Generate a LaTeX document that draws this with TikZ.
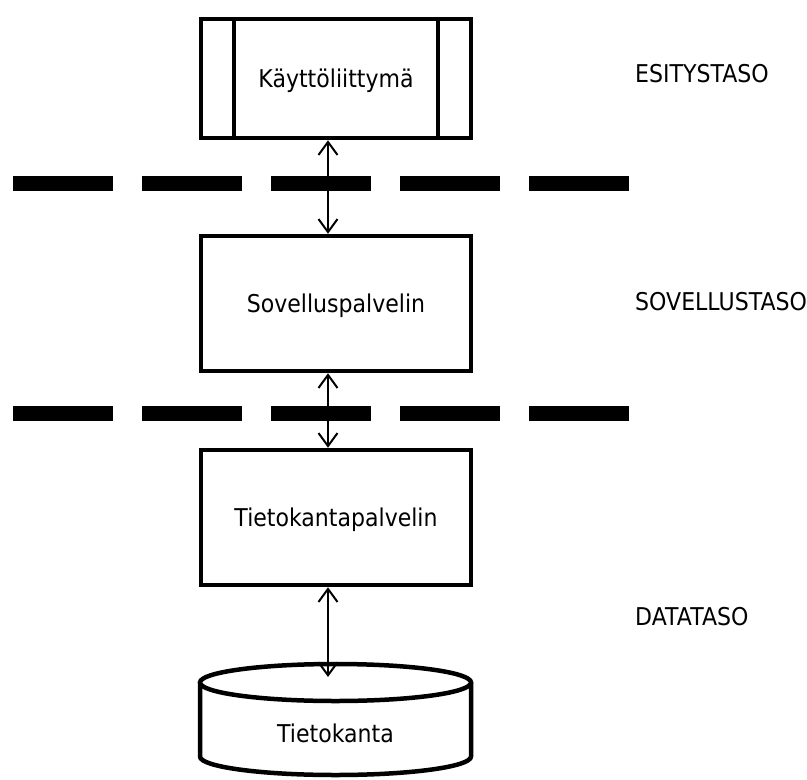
\documentclass[tikz,border=0pt]{standalone}
\usepackage{fontspec}
\setmainfont{DejaVu Sans}[FakeStretch=0.9]
\usetikzlibrary{arrows.meta,calc}
\begin{document}
\begin{tikzpicture}[x=1pt,y=-1pt,
  txt/.style={font=\fontsize{24.5}{29}\selectfont},
  tier/.style={txt, draw, line width=4.5pt, rectangle, minimum width=270pt,
    inner sep=0pt, text height=17.5pt, text depth=0pt},
  caption/.style={txt, inner sep=0pt, anchor=base west},
  boxline/.style={line width=4.5pt},
  sepline/.style={line width=15pt, dash pattern=on 100pt off 29pt},
  barb/.tip={Straight Barb[length=13pt,width=19pt]},
  link/.style={line width=2pt, barb-barb}]
\useasboundingbox (0,0) rectangle (807,780);

% tier boxes
\node[tier, minimum height=119pt] (ui) at (336,78.5) {Käyttöliittymä};
\node[tier, minimum height=135pt] (app) at (336,303.5) {Sovelluspalvelin};
\node[tier, minimum height=135pt] (dbs) at (336,517.5) {Tietokantapalvelin};

% side bars of the user interface box
\draw[boxline] ($(ui.north)+(-102,0)$) -- ($(ui.south)+(-102,0)$);
\draw[boxline] ($(ui.north)+(102,0)$) -- ($(ui.south)+(102,0)$);

% database cylinder
\draw[boxline] (200,682.5) -- (200,756.5)
  arc[start angle=180, end angle=360, x radius=135.5pt, y radius=18.5pt]
  -- (471,682.5);
\draw[boxline] (335.5,682.5) ellipse [x radius=135.5pt, y radius=18.5pt];
\node[txt, inner sep=0pt, text height=17.5pt, text depth=0pt] (db) at (335.5,734) {Tietokanta};
\coordinate (dbtip) at (328,677);

% layer separators
\draw[sepline] (13,183.5) -- (630,183.5);
\draw[sepline] (13,413) -- (630,413);

% connections
\draw[link] ($(ui.south)+(-8,0)$) -- ($(app.north)+(-8,0)$);
\draw[link] ($(app.south)+(-8,0)$) -- ($(dbs.north)+(-8,0)$);
\draw[link] ($(dbs.south)+(-8,0)$) -- (dbtip);

% layer names
\node[caption] (l1) at (635,82) {ESITYSTASO};
\node[caption] (l2) at (635,310) {SOVELLUSTASO};
\node[caption] (l3) at (635,625) {DATATASO};
\end{tikzpicture}
\end{document}
